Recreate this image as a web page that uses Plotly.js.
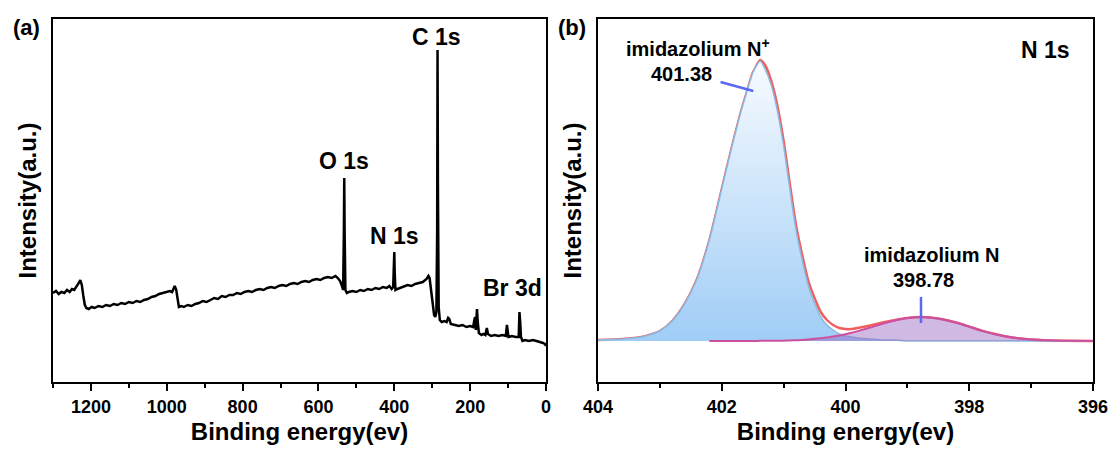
<!DOCTYPE html>
<html>
<head>
<meta charset="utf-8">
<script src="https://cdn.plot.ly/plotly-3.0.1.min.js"></script>
<style>html,body{margin:0;padding:0;background:#fff;}#chart{width:1111px;height:450px;}</style>
</head>
<body>
<div id="chart"></div>
<script>
// ---------- Panel (a): XPS survey ----------
const surveyEnergy = [1300,1292,1285,1278,1270,1263,1256,1250,1244,1238,1232,1228,1224,1220,1216,1212,1206,1198,1190,1180,1170,1160,1150,1140,1130,1120,1110,1100,1090,1080,1070,1060,1050,1040,1030,1020,1010,1000,992,986,982,979,975,971,968,962,955,945,935,925,915,905,895,885,875,865,855,845,835,825,815,805,795,785,775,765,755,745,735,725,715,705,695,685,675,665,655,645,635,625,615,605,595,585,575,565,555,549,543,538,535,533,532,531,529,525,520,510,500,490,480,470,460,450,440,430,420,413,407,403,401,400,399,397,392,385,375,365,355,345,335,325,315,310,307,303,299,295,292,289,287,286,285,283,280,275,268,262,258,255,251,240,230,220,210,200,192,189,187,185,182,180,177,170,165,160,156,153,145,135,125,115,106,103,101,99,90,80,72,70,68,66,62,55,45,35,25,15,8,3,0];
const surveyIntensity = [89,91,88,90,89,92,90,93,92,95,99,102,97,86,77,74,73,75,74,76,75,77,76,78,77,79,78,80,79,81,80,82,83,85,86,88,89,90,91,90,94,96,92,80,75,76,75,77,76,78,79,81,80,82,84,83,86,85,87,87,89,88,90,91,90,92,93,92,94,95,94,96,97,96,98,99,98,100,101,100,102,103,102,104,105,104,106,104,101,96,92,150,204,150,92,89,90,91,90,92,91,93,92,94,93,95,94,96,93,95,120,130,110,92,93,94,95,97,96,98,99,100,103,106,104,90,75,67,65,70,150,332,200,75,62,60,61,60,64,63,58,57,56,57,55,56,55,62,65,52,73,60,49,47,48,47,54,48,46,47,46,47,46,57,50,45,46,45,45,70,60,45,41,42,41,42,41,40,39,38,36];
const surveyTicks = [1200,1000,800,600,400,200,0];
const surveyLabels = ["C 1s","O 1s","N 1s","Br 3d"];
const surveyLabelX = [288,533,400,88];
const surveyLabelY = [345,221,146,94];

// ---------- Panel (b): N 1s high resolution ----------
const n1sEnergy = [404.0,403.6,403.3,403.0,402.8,402.6,402.4,402.2,402.0,401.9,401.8,401.7,401.6,401.5,401.45,401.38,401.3,401.2,401.1,401.0,400.9,400.8,400.7,400.6,400.5,400.4,400.3,400.2,400.1,400.0,399.9,399.8,399.6,399.4,399.2,399.0,398.78,398.6,398.4,398.2,398.0,397.8,397.6,397.4,397.2,397.0,396.8,396.5,396.0];
const peakNplus = [1,2,4,10,20,37,62,101,152,178,203,227,248,268,274,280,272,256,230,195,152,111,81,55,38,24,16,11,7,5,4,3,2,1,1,0,0,0,0,0,0,0,0,0,0,0,0,0,0];
const peakN = [null,null,null,null,null,null,null,0,0,0,0,0,0.05,0.1,0.1,0.15,0.2,0.2,0.3,0.35,0.5,0.8,1.1,1.6,2.2,2.8,3.5,4.4,5.5,6.8,8.2,9.9,13.5,17.3,20.4,22.9,24,23.3,21.3,18.2,14.3,10.4,7.0,4.5,2.7,1.4,0.7,0.2,0];
const envelope = [1,2,4,10,20,37,62,101,152,178,203,227,248,268,274,281,276,260,235,200,157,116,86,60,43,29,21,16,13,12,12,13,15.5,18.5,21,23,24,23.3,21.3,18.2,14.4,10.4,7.2,4.6,2.7,1.4,0.7,0.2,0];
const n1sTicks = [404,402,400,398,396];
const n1sLabels = ["imidazolium N<sup>+</sup>","401.38","imidazolium N","398.78","N 1s"];
const n1sLabelX = [402.39,402.65,398.60,398.74,396.76];
const n1sLabelY = [294,267,86,61,291];
const markerNplus = {x0:402.02, y0:259, x1:401.49, y1:250};
const markerN = {x0:398.78, y0:44, x1:398.78, y1:18};

const FONT = "Liberation Sans, Arial, sans-serif";

const traces = [
  {x: surveyEnergy, y: surveyIntensity, xaxis:'x', yaxis:'y', type:'scatter', mode:'lines',
   line:{color:'#000', width:2.5}, hoverinfo:'skip'},
  {x: n1sEnergy, y: envelope, xaxis:'x2', yaxis:'y2', type:'scatter', mode:'lines',
   line:{color:'rgb(240,95,95)', width:2.5, shape:'spline', smoothing:0.6}, hoverinfo:'skip'},
  {x: n1sEnergy, y: peakNplus, xaxis:'x2', yaxis:'y2', type:'scatter', mode:'lines', fill:'tozeroy',
   fillgradient:{type:'vertical', start:0, stop:280, colorscale:[[0,'rgb(160,205,246)'],[1,'rgb(248,251,255)']]},
   line:{color:'rgb(140,185,222)', width:1.5, shape:'spline', smoothing:0.6}, hoverinfo:'skip'},
  {x: n1sEnergy, y: peakN, xaxis:'x2', yaxis:'y2', type:'scatter', mode:'lines', fill:'tozeroy',
   fillcolor:'rgba(150,100,190,0.45)',
   line:{color:'rgb(205,80,160)', width:2, shape:'spline', smoothing:0.6}, hoverinfo:'skip'}
];

const annotations = [];
surveyLabels.forEach((t,i)=>annotations.push({xref:'x', yref:'y', x:surveyLabelX[i], y:surveyLabelY[i], xanchor:'center', yanchor:'middle', text:'<b>'+t+'</b>', showarrow:false, font:{family:FONT, size:23, color:'#000'}}));
n1sLabels.forEach((t,i)=>annotations.push({xref:'x2', yref:'y2', x:n1sLabelX[i], y:n1sLabelY[i], xanchor:'center', yanchor:'middle', text:'<b>'+t+'</b>', showarrow:false, font:{family:FONT, size:(i===4?23:20), color:'#000'}}));
annotations.push({xref:'paper', yref:'paper', x:26/1111, y:1-27/450, xanchor:'center', yanchor:'middle', text:'<b>(a)</b>', showarrow:false, font:{family:FONT, size:22, color:'#000'}});
annotations.push({xref:'paper', yref:'paper', x:572/1111, y:1-27/450, xanchor:'center', yanchor:'middle', text:'<b>(b)</b>', showarrow:false, font:{family:FONT, size:22, color:'#000'}});

const shapes = [markerNplus, markerN].map(m=>({type:'line', xref:'x2', yref:'y2', x0:m.x0, y0:m.y0, x1:m.x1, y1:m.y1, line:{color:'rgb(90,105,240)', width:2.5}}));

function xax(range, ticks, domain, minorDtick){
  return {range:range, domain:domain, tickmode:'array', tickvals:ticks, ticktext:ticks.map(String),
    ticks:'outside', ticklen:7, tickwidth:2, tickcolor:'#000', showline:true, linecolor:'#000', linewidth:2, mirror:true,
    showgrid:false, zeroline:false, automargin:false,
    minor:{ticks:'outside', ticklen:4, tickwidth:2, tickcolor:'#000', dtick:minorDtick, showgrid:false},
    tickfont:{family:FONT, size:18, color:'#000', weight:'bold'},
    title:{text:'<b>Binding energy(ev)</b>', font:{family:FONT, size:24, color:'#000'}, standoff:8}};
}
function yax(range, anchor){
  return {range:range, domain:[68/450, 431/450], anchor:anchor, showticklabels:false, ticks:'', showgrid:false, zeroline:false,
    showline:true, linecolor:'#000', linewidth:2, mirror:true, automargin:false,
    title:{text:'<b>Intensity(a.u.)</b>', font:{family:FONT, size:24, color:'#000'}, standoff:8}};
}

const xa = xax([1300,0], surveyTicks, [53/1111, 546/1111], 100); xa.anchor='y';
const xb = xax([404,396], n1sTicks, [598/1111, 1093/1111], 1); xb.anchor='y2';

const layout = {
  width:1111, height:450, margin:{l:0,r:0,t:0,b:0}, paper_bgcolor:'#fff', plot_bgcolor:'#fff', showlegend:false,
  xaxis: xa, yaxis: yax([0,363],'x'),
  xaxis2: xb, yaxis2: yax([-41,322],'x2'),
  annotations: annotations, shapes: shapes
};
Plotly.newPlot('chart', traces, layout, {displayModeBar:false, staticPlot:true});
</script>
</body>
</html>
